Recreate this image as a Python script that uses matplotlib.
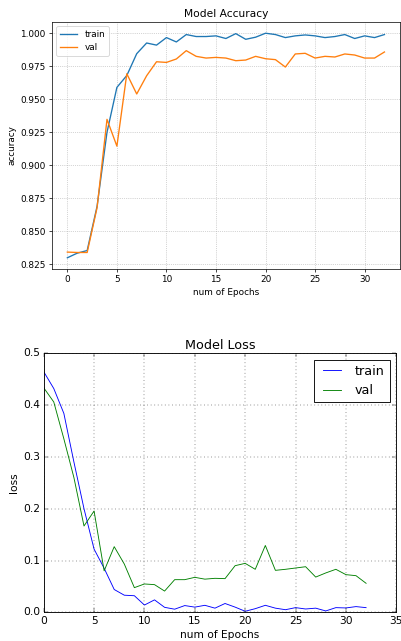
import matplotlib
matplotlib.use('Agg')
import matplotlib.pyplot as plt

DPI = 64
W, H = 401, 641

epochs = list(range(33))

acc_train = [0.830, 0.8335, 0.8355, 0.869, 0.925, 0.959, 0.968, 0.9845, 0.9926, 0.991,
             0.9967, 0.9934, 0.999, 0.9975, 0.9975, 0.998, 0.996, 0.9997, 0.9954, 0.997,
             1.000, 0.999, 0.9967, 0.998, 0.9987, 0.998, 0.9967, 0.9975, 0.999, 0.996,
             0.998, 0.9967, 0.999]
acc_val = [0.8343, 0.834, 0.834, 0.868, 0.9348, 0.9145, 0.9693, 0.954, 0.9678, 0.9784,
           0.9779, 0.9805, 0.9868, 0.9825, 0.9812, 0.9817, 0.9812, 0.9792, 0.9797, 0.9825,
           0.9807, 0.980, 0.9744, 0.9843, 0.9848, 0.9812, 0.9825, 0.982, 0.9843, 0.9835,
           0.9812, 0.9812, 0.9858]

loss_train = [0.4645, 0.432, 0.384, 0.290, 0.200, 0.122, 0.085, 0.044, 0.033, 0.032,
              0.014, 0.024, 0.0096, 0.006, 0.013, 0.010, 0.0135, 0.008, 0.017, 0.010,
              0.002, 0.007, 0.0135, 0.008, 0.005, 0.009, 0.0064, 0.008, 0.0026, 0.009,
              0.0084, 0.011, 0.009]
loss_val = [0.4335, 0.406, 0.335, 0.260, 0.1666, 0.1955, 0.080, 0.1267, 0.0932, 0.0476,
            0.0547, 0.0534, 0.041, 0.063, 0.063, 0.0675, 0.064, 0.0656, 0.065, 0.090,
            0.0945, 0.083, 0.129, 0.081, 0.083, 0.0855, 0.088, 0.068, 0.076, 0.083,
            0.0727, 0.0707, 0.056]


def box(left, top, right, bottom):
    return [left / W, 1 - bottom / H, (right - left) / W, (bottom - top) / H]


fig = plt.figure(figsize=(W / DPI, H / DPI), dpi=DPI)

# accuracy, default style
ax1 = fig.add_axes(box(51.5, 22, 400.3, 269))
ax1.plot(epochs, acc_train, color='#1f77b4')
ax1.plot(epochs, acc_val, color='#ff7f0e')
ax1.grid(True, linestyle=':')
ax1.set_title('Model Accuracy')
ax1.set_ylabel('accuracy')
ax1.set_xlabel('num of Epochs')
ax1.legend(['train', 'val'], loc='upper left')

# loss, classic style
with plt.style.context('classic'):
    ax2 = fig.add_axes(box(43.7, 353.3, 396.3, 612.3))
    ax2.plot(epochs, loss_train, color='b')
    ax2.plot(epochs, loss_val, color='g')
    ax2.grid(True)
    ax2.set_xlim(0, 35)
    ax2.set_ylim(0, 0.5)
    ax2.set_title('Model Loss')
    ax2.set_ylabel('loss')
    ax2.set_xlabel('num of Epochs')
    ax2.legend(['train', 'val'], loc='upper right')

fig.savefig('out.png', dpi=DPI)
